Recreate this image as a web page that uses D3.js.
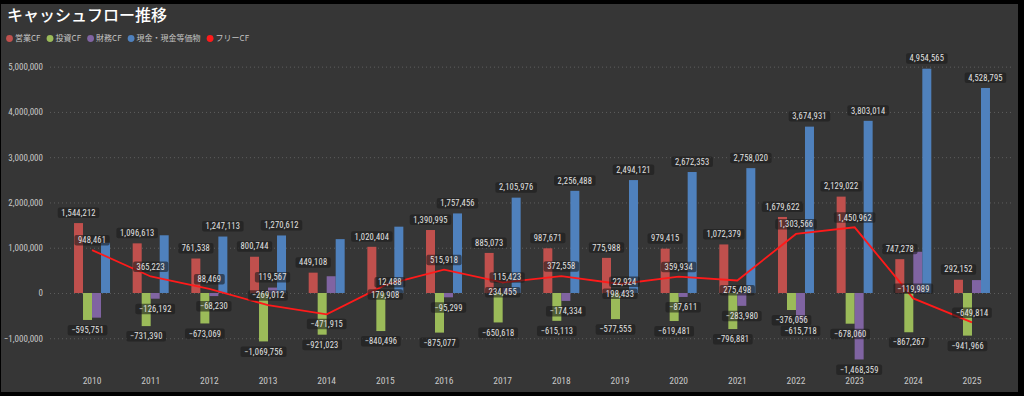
<!DOCTYPE html>
<html>
<head>
<meta charset="utf-8">
<script src="https://cdn.jsdelivr.net/npm/d3@7"></script>
<style>
    body { margin: 0; background: #000; }
    svg { display: block; }
</style>
</head>
<body>
<div id="chart"></div>
<script>
// 年度
const years = ["2010", "2011", "2012", "2013", "2014", "2015", "2016", "2017",
    "2018", "2019", "2020", "2021", "2022", "2023", "2024", "2025"];

// 営業CF
const operatingCF = [1544212, 1096613, 761538, 800744, 449108, 1020404, 1390995, 885073,
    987671, 775988, 979415, 1072379, 1679622, 2129022, 747278, 292152];
// 投資CF
const investingCF = [-595751, -731390, -673069, -1069756, -921023, -840496, -875077, -650618,
    -615113, -577555, -619481, -796881, -376056, -678060, -867267, -941966];
// 財務CF (ラベルの無い年は目測)
const financingCF = [-545000, -126192, -68230, 119567, 370000, 12488, -95299, 115423,
    -174334, 22924, -87611, -283980, -615718, -1468359, 910000, 285000];
// 現金・現金等価物 (ラベルの無い年は目測)
const cashEquiv = [1110000, 1275000, 1247113, 1270612, 1190000, 1465000, 1757456, 2105976,
    2256488, 2494121, 2672353, 2758020, 3674931, 3803014, 4954565, 4528795];
// フリーCF
const freeCF = [948461, 365223, 88469, -269012, -471915, 179908, 515918, 234455,
    372558, 198433, 359934, 275498, 1303566, 1450962, -119989, -649814];

const seriesNames = ["営業CF", "投資CF", "財務CF", "現金・現金等価物", "フリーCF"];
const yTicks = [-1000000, 0, 1000000, 2000000, 3000000, 4000000, 5000000];

const colors = ["#c0504d", "#9bbb59", "#8064a2", "#4f81bd", "#ff1a1a"];
const numFont = "'Liberation Sans Narrow', 'Roboto Condensed', Roboto, sans-serif";
const jpFont = "'Noto Sans CJK JP', sans-serif";

const width = 1024, height = 396;

const svg = d3.select("#chart")
    .append("svg")
    .attr("width", width)
    .attr("height", height);

// 背景カード
svg.append("rect")
    .attr("x", 1).attr("y", 4)
    .attr("width", 1017).attr("height", 388)
    .attr("fill", "#363636");

// タイトル
svg.append("text")
    .attr("x", 7).attr("y", 21)
    .attr("fill", "#ffffff")
    .style("font-family", jpFont)
    .style("font-size", "16px")
    .style("font-weight", 500)
    .text("キャッシュフロー推移");

// 凡例
let lx = 9.5;
seriesNames.forEach((name, i) => {
    svg.append("circle")
        .attr("cx", lx).attr("cy", 38.5).attr("r", 3.4)
        .attr("fill", colors[i]);
    const t = svg.append("text")
        .attr("x", lx + 5.5).attr("y", 41.3)
        .attr("fill", "#c4c4c4")
        .style("font-family", jpFont)
        .style("font-size", "8px")
        .text(name);
    lx = lx + 5.5 + t.node().getComputedTextLength() + 9.5;
});

// スケール
const x0 = d3.scaleBand()
    .domain(years)
    .range([62.7, 1001.3])
    .paddingInner(0.3864)
    .paddingOuter(0.193);

const x1 = d3.scaleBand()
    .domain(d3.range(4))
    .range([0, x0.bandwidth()]);

const yScale = d3.scaleLinear()
    .domain([-1500000, 5500000])
    .range([360.9, 44]);

// グリッド線
const grid = svg.append("g")
    .attr("transform", "translate(50,0)")
    .call(d3.axisLeft(yScale).tickValues(yTicks).tickSize(-962).tickFormat(""));
grid.select(".domain").remove();
grid.selectAll("line")
    .attr("stroke", "#5e5e5e")
    .attr("stroke-dasharray", "1 3");

// Y軸
const yAxis = svg.append("g")
    .attr("transform", "translate(43,0)")
    .call(d3.axisLeft(yScale).tickValues(yTicks).tickSize(0).tickPadding(0).tickFormat(d3.format(",")));
yAxis.select(".domain").remove();
yAxis.selectAll("text")
    .attr("fill", "#c8c8c8")
    .style("font-family", numFont)
    .style("font-size", "9px");

// X軸
const xAxis = svg.append("g")
    .attr("transform", "translate(0,377)")
    .call(d3.axisBottom(x0).tickSize(0).tickPadding(0));
xAxis.select(".domain").remove();
xAxis.selectAll("text")
    .attr("fill", "#c8c8c8")
    .style("font-family", numFont)
    .style("font-size", "9.5px");

// 棒グラフ
const barSeries = [operatingCF, investingCF, financingCF, cashEquiv];
barSeries.forEach((arr, k) => {
    svg.append("g")
        .selectAll("rect")
        .data(arr)
        .enter()
        .append("rect")
        .attr("x", (d, i) => x0(years[i]) + x1(k))
        .attr("width", x1.bandwidth())
        .attr("y", d => yScale(Math.max(0, d)))
        .attr("height", d => Math.abs(yScale(d) - yScale(0)))
        .attr("fill", colors[k]);
});

// フリーCF 折れ線
const cx = i => x0(years[i]) + x0.bandwidth() / 2;
svg.append("path")
    .datum(freeCF)
    .attr("fill", "none")
    .attr("stroke", colors[4])
    .attr("stroke-width", 1.8)
    .attr("d", d3.line()
        .x((d, i) => cx(i))
        .y(d => yScale(d)));

// データラベル
const fmt = d3.format(",");
const labelLayer = svg.append("g");
const measure = labelLayer.append("text")
    .style("font-family", numFont)
    .style("font-size", "8.5px")
    .style("letter-spacing", "0.2px");
const boxH = 10.5, pad = 3.5;
const placed = [];

function makeBox(str, centerX, edgeY, side, gap) {
    const w = measure.text(str).node().getComputedTextLength() + pad * 2;
    const y = side === "above" ? edgeY - gap - boxH : edgeY + gap;
    return { x: centerX - w / 2, y: y, w: w, h: boxH, str: str };
}

function collides(b) {
    return placed.some(o => b.x < o.x + o.w - 0.5 && o.x < b.x + b.w - 0.5 &&
        b.y < o.y + o.h - 0.5 && o.y < b.y + b.h - 0.5);
}

function drawBox(b) {
    placed.push(b);
    labelLayer.append("rect")
        .attr("x", b.x).attr("y", b.y)
        .attr("width", b.w).attr("height", b.h)
        .attr("rx", 2)
        .attr("fill", "#1c1c1c")
        .attr("fill-opacity", 0.6);
    labelLayer.append("text")
        .attr("x", b.x + b.w / 2).attr("y", b.y + b.h / 2)
        .attr("dy", "0.35em")
        .attr("text-anchor", "middle")
        .attr("fill", "#e2e2e2")
        .style("font-family", numFont)
        .style("font-size", "8.5px")
        .style("letter-spacing", "0.2px")
        .text(b.str);
}

// 折れ線がラベル内部を横切る長さ
function lineCross(b) {
    let len = 0;
    for (let x = b.x; x <= b.x + b.w; x += 0.5) {
        for (let i = 0; i < freeCF.length - 1; i++) {
            if (x >= cx(i) && x <= cx(i + 1)) {
                const t = (x - cx(i)) / (cx(i + 1) - cx(i));
                const ly = yScale(freeCF[i]) + t * (yScale(freeCF[i + 1]) - yScale(freeCF[i]));
                if (ly > b.y + 3 && ly < b.y + b.h - 3) len += 0.5;
                break;
            }
        }
    }
    return len;
}

function barLabels(arr, k) {
    arr.forEach((d, i) => {
        const centerX = x0(years[i]) + x1(k) + x1.bandwidth() / 2;
        const b = makeBox(fmt(d), centerX, yScale(d), d >= 0 ? "above" : "below", 5);
        if (!collides(b)) drawBox(b);
    });
}

barLabels(operatingCF, 0);
barLabels(investingCF, 1);
barLabels(financingCF, 2);

freeCF.forEach((d, i) => {
    const above = makeBox(fmt(d), cx(i), yScale(d), "above", 4.5);
    const below = makeBox(fmt(d), cx(i), yScale(d), "below", 4.5);
    if (!collides(above) && lineCross(above) < 5) drawBox(above);
    else if (!collides(below)) drawBox(below);
    else if (!collides(above)) drawBox(above);
});

barLabels(cashEquiv, 3);
measure.remove();
</script>
</body>
</html>
